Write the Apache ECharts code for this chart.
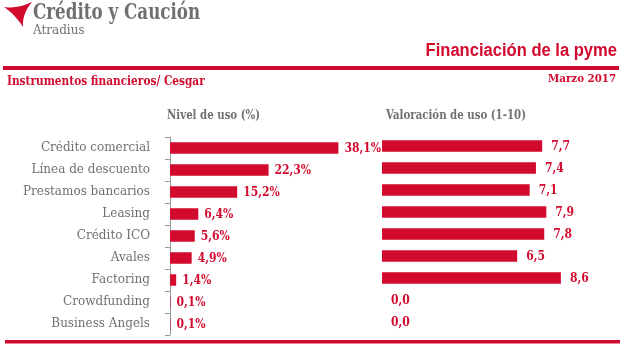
<!DOCTYPE html>
<html><head><meta charset="utf-8">
<script src="https://cdn.jsdelivr.net/npm/echarts@6/dist/echarts.min.js"></script>
<style>html,body{margin:0;padding:0;background:#fff}#c{width:627px;height:346px}</style>
</head><body><div id="c"></div>
<script>
const categories = ['Crédito comercial','Línea de descuento','Prestamos bancarios','Leasing','Crédito ICO','Avales','Factoring','Crowdfunding','Business Angels'];
const usage = [38.1,22.3,15.2,6.4,5.6,4.9,1.4,0.1,0.1];
const rating = [7.7,7.4,7.1,7.9,7.8,6.5,8.6,0.0,0.0];
const titleMain = 'Financiación de la pyme';
const subtitleLeft = 'Instrumentos financieros/ Cesgar';
const dateText = 'Marzo 2017';
const leftTitle = 'Nivel de uso (%)';
const rightTitle = 'Valoración de uso (1-10)';

const RED = '#d20a2e';
const GREY = '#707070';
const SERIF = '"DejaVu Serif", serif';
const LABELFONT = '"DejaVu Serif Condensed", "DejaVu Serif", serif';
const chart = echarts.init(document.getElementById('c'));
const fmt = (v, d) => v.toFixed(d).replace('.', ',');

// logo mark: three concave quadratic edges
function logoPoints() {
  const segs = [[[4,7],[17,9],[32,2]], [[32,2],[22,14],[23,27]], [[23,27],[15,14.5],[4,7]]];
  const pts = [];
  segs.forEach(([a,c,b]) => {
    for (let i = 0; i < 12; i++) {
      const t = i / 12, u = 1 - t;
      pts.push([u*u*a[0] + 2*u*t*c[0] + t*t*b[0], u*u*a[1] + 2*u*t*c[1] + t*t*b[1]]);
    }
  });
  return pts;
}

chart.setOption({
  animation: false,
  grid: [
    {left: 170, top: 137, width: 176.8, height: 198},
    {left: 382, top: 135, width: 208, height: 198}
  ],
  xAxis: [
    {gridIndex: 0, type: 'value', min: 0, max: 40, show: false},
    {gridIndex: 1, type: 'value', min: 0, max: 10, show: false}
  ],
  yAxis: [
    {gridIndex: 0, type: 'category', data: categories, inverse: true,
     axisLine: {show: true, lineStyle: {color: '#9a9a9a', width: 1}},
     axisTick: {show: true, length: 5, lineStyle: {color: '#9a9a9a'}},
     axisLabel: {margin: 20, color: GREY, fontFamily: SERIF, fontSize: 12}},
    {gridIndex: 1, type: 'category', data: categories, inverse: true, show: false}
  ],
  series: [
    {type: 'bar', xAxisIndex: 0, yAxisIndex: 0, data: usage, barWidth: 11.5,
     itemStyle: {color: RED},
     label: {show: true, position: 'right', distance: 6, offset: [0, 1], color: RED, fontFamily: LABELFONT,
             fontWeight: 'bold', fontSize: 12, formatter: p => fmt(p.value, 1) + '%'}},
    {type: 'bar', xAxisIndex: 1, yAxisIndex: 1, data: rating, barWidth: 11.5,
     itemStyle: {color: RED},
     label: {show: true, position: 'right', distance: 9, offset: [0, 1], color: RED, fontFamily: LABELFONT,
             fontWeight: 'bold', fontSize: 12, formatter: p => fmt(p.value, 1)}}
  ],
  graphic: [
    {type: 'polygon', shape: {points: logoPoints()}, style: {fill: RED}},
    {type: 'text', x: 33, y: 13.5, scaleX: 0.76,
     style: {text: 'Crédito y Caución', fill: '#707070', font: 'bold 22px "DejaVu Serif"', verticalAlign: 'middle'}},
    {type: 'text', x: 33, y: 31,
     style: {text: 'Atradius', fill: '#707070', font: '12px "DejaVu Serif"', verticalAlign: 'middle'}},
    {type: 'text', x: 617, y: 51, scaleX: 0.92,
     style: {text: titleMain, fill: RED, font: 'bold 18px "Liberation Sans Narrow", "Liberation Sans"', align: 'right', verticalAlign: 'middle'}},
    {type: 'rect', shape: {x: 3, y: 66, width: 616, height: 4}, style: {fill: RED}},
    {type: 'text', x: 616, y: 79, scaleX: 0.93,
     style: {text: dateText, fill: RED, font: 'bold 11px "DejaVu Serif"', align: 'right', verticalAlign: 'middle'}},
    {type: 'text', x: 7, y: 82, scaleX: 0.88,
     style: {text: subtitleLeft, fill: RED, font: 'bold 12px "DejaVu Serif"', verticalAlign: 'middle'}},
    {type: 'text', x: 167, y: 116, scaleX: 0.85,
     style: {text: leftTitle, fill: GREY, font: 'bold 12px "DejaVu Serif"', verticalAlign: 'middle'}},
    {type: 'text', x: 386, y: 116, scaleX: 0.85,
     style: {text: rightTitle, fill: GREY, font: 'bold 12px "DejaVu Serif"', verticalAlign: 'middle'}},
    {type: 'rect', shape: {x: 5, y: 340, width: 615, height: 3.5}, style: {fill: RED}}
  ]
});
</script></body></html>
